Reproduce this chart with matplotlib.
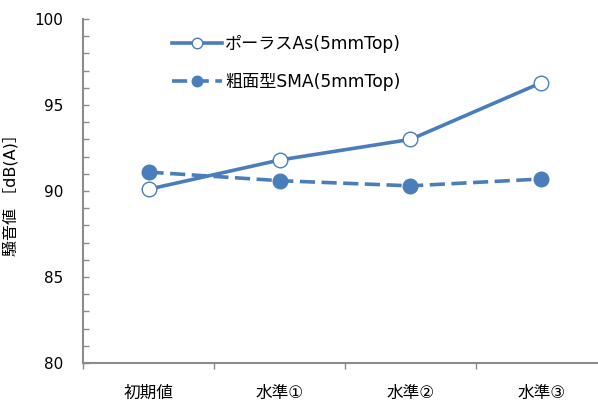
import numpy as np
import matplotlib
matplotlib.use('Agg')
import matplotlib.pyplot as plt

plt.rcParams['font.family'] = ['DejaVu Sans', 'Noto Sans CJK JP']

categories = ['初期値', '水準①', '水準②', '水準③']
porous = [90.1, 91.8, 93.0, 96.3]
sma = [91.1, 90.6, 90.3, 90.7]
labels = ['ポーラスAs(5mmTop)', '粗面型SMA(5mmTop)']

blue = '#4A7EBB'
gray = '#8C8C8C'

fig = plt.figure(figsize=(5.98, 4.01), dpi=100)
ax = fig.add_axes([83/598, 38/401, 524/598, 344/401])

x = np.arange(len(categories))
ax.plot(x, porous, color=blue, lw=2.6, marker='o', ms=10.5,
        mfc='white', mec=blue, mew=1.0, label=labels[0], zorder=3)
ax.plot(x, sma, color=blue, lw=2.6, ls=(0, (4.2, 1.8)), marker='o', ms=10.5,
        mfc=blue, mec=blue, label=labels[1], zorder=3)

ax.set_xlim(-0.5, 3.5)
ax.set_ylim(80, 100)
ax.set_xticks(x)
ax.set_xticklabels(categories, fontsize=12)
ax.set_xticks(np.arange(-0.5, 4, 1), minor=True)
ax.tick_params(axis='x', which='major', length=0, pad=15)
ax.tick_params(axis='x', which='minor', length=4, width=1, color=gray, direction='out')

ax.set_yticks(np.arange(80, 101, 5))
ax.set_yticks(np.arange(80, 101, 1), minor=True)
ax.tick_params(axis='y', which='both', length=4, width=1, color=gray,
               direction='in', labelsize=11, pad=14)

for s in ['top', 'right']:
    ax.spines[s].set_visible(False)
for s in ['left', 'bottom']:
    ax.spines[s].set_color(gray)
    ax.spines[s].set_linewidth(1.5)

ax.set_ylabel('騒音値 ［dB(A)］', fontsize=11.5)
ax.yaxis.set_label_coords(-0.124, 0.5)

ax.legend(loc='upper left', bbox_to_anchor=(172/598, 1 - 35/401),
          bbox_transform=fig.transFigure, frameon=False, fontsize=12.3,
          handlelength=2.9, handletextpad=0.2, labelspacing=1.15,
          borderpad=0, borderaxespad=0, markerscale=0.72)

fig.savefig('out.png', dpi=100)
